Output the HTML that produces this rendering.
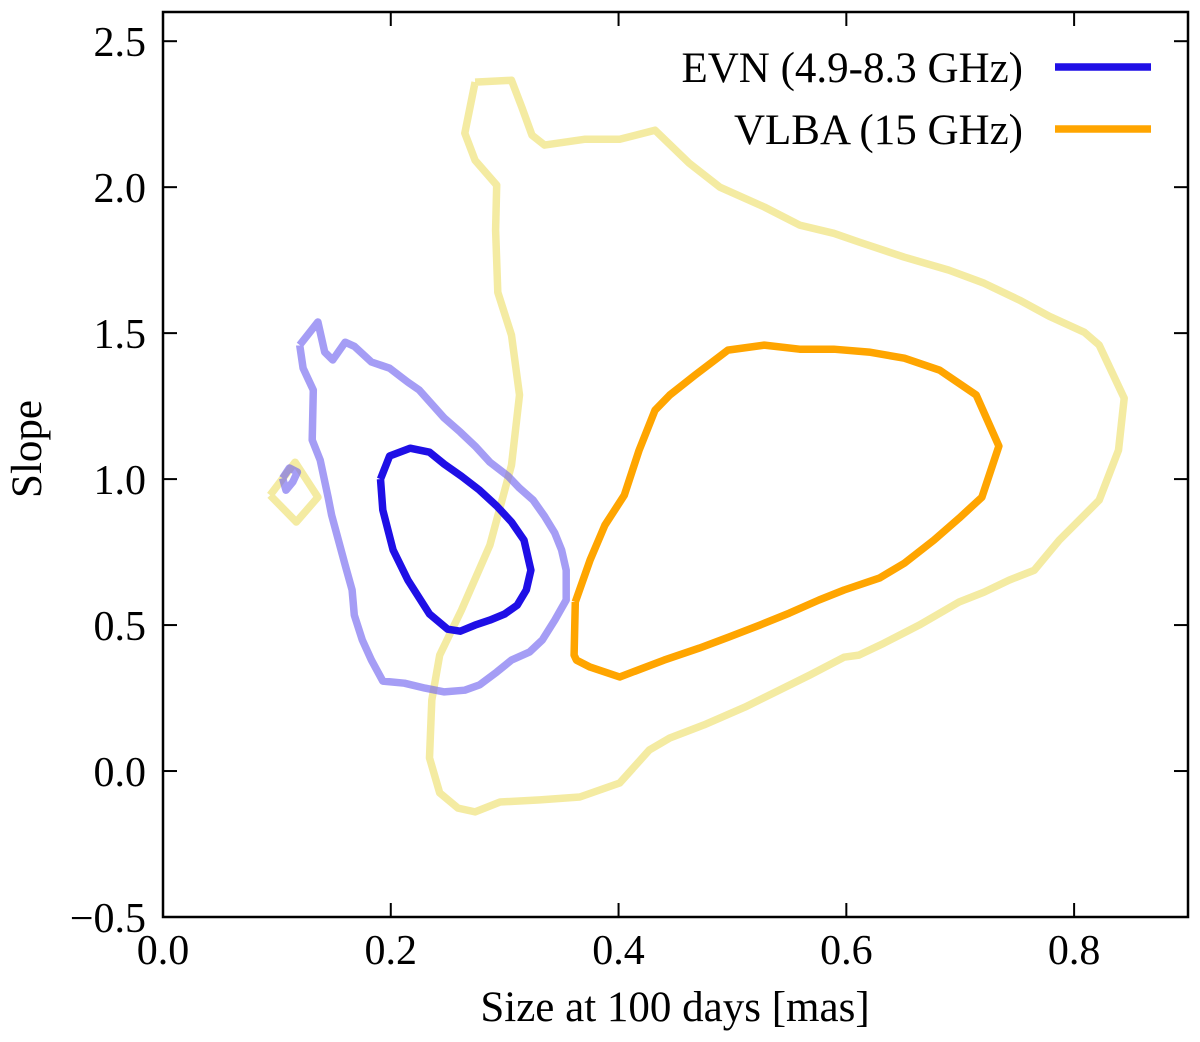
<!DOCTYPE html>
<html><head><meta charset="utf-8"><style>
html,body{margin:0;padding:0;background:#fff;}
svg{display:block;font-family:"Liberation Serif",serif;}
</style></head><body>
<svg id="chart" width="1200" height="1042" viewBox="0 0 1200 1042" xmlns="http://www.w3.org/2000/svg"></svg>
<script>
const xTicks=[0.0,0.2,0.4,0.6,0.8];
const xTickLabels=["0.0","0.2","0.4","0.6","0.8"];
const yTicks=[-0.5,0.0,0.5,1.0,1.5,2.0,2.5];
const yTickLabels=["\u22120.5","0.0","0.5","1.0","1.5","2.0","2.5"];
const evnInnerX=[0.191,0.199,0.217,0.234,0.247,0.262,0.278,0.293,0.306,0.317,0.323,0.319,0.311,0.300,0.287,0.274,0.261,0.250,0.234,0.215,0.202,0.193,0.191];
const evnInnerY=[1.000,1.079,1.106,1.092,1.051,1.010,0.962,0.908,0.853,0.791,0.688,0.620,0.568,0.538,0.517,0.500,0.479,0.486,0.538,0.654,0.757,0.894,1.000];
const evnOuterX=[0.120,0.136,0.142,0.149,0.160,0.168,0.183,0.199,0.215,0.225,0.236,0.247,0.261,0.274,0.287,0.303,0.313,0.325,0.335,0.344,0.350,0.354,0.354,0.344,0.333,0.322,0.306,0.293,0.278,0.265,0.247,0.230,0.212,0.193,0.183,0.175,0.168,0.166,0.160,0.154,0.148,0.145,0.138,0.131,0.132,0.123,0.120];
const evnOuterY=[1.459,1.538,1.435,1.408,1.469,1.455,1.401,1.380,1.332,1.305,1.257,1.209,1.161,1.113,1.058,1.010,0.969,0.928,0.873,0.815,0.757,0.688,0.586,0.517,0.449,0.408,0.380,0.339,0.295,0.277,0.271,0.284,0.301,0.308,0.380,0.449,0.534,0.620,0.705,0.791,0.877,0.938,1.065,1.134,1.305,1.380,1.459];
const evnIslandX=[0.105,0.111,0.118,0.114,0.108,0.105];
const evnIslandY=[1.003,1.038,1.024,0.990,0.962,1.003];
const vlbaInnerX=[0.362,0.375,0.388,0.405,0.418,0.432,0.445,0.467,0.496,0.528,0.559,0.589,0.620,0.651,0.682,0.714,0.734,0.719,0.699,0.677,0.651,0.629,0.598,0.576,0.550,0.524,0.497,0.471,0.440,0.401,0.375,0.363,0.361,0.362];
const vlbaInnerY=[0.579,0.723,0.842,0.945,1.099,1.236,1.288,1.356,1.442,1.459,1.445,1.445,1.435,1.414,1.373,1.288,1.113,0.938,0.866,0.791,0.712,0.661,0.620,0.586,0.541,0.500,0.459,0.421,0.380,0.322,0.356,0.380,0.397,0.579];
const vlbaOuterX=[0.274,0.306,0.315,0.324,0.335,0.370,0.401,0.432,0.462,0.489,0.528,0.559,0.589,0.611,0.651,0.690,0.721,0.752,0.778,0.809,0.822,0.844,0.839,0.822,0.809,0.787,0.765,0.743,0.721,0.699,0.664,0.633,0.611,0.598,0.568,0.541,0.511,0.475,0.445,0.427,0.401,0.366,0.331,0.296,0.274,0.259,0.243,0.234,0.236,0.243,0.262,0.287,0.306,0.313,0.306,0.294,0.292,0.293,0.274,0.265,0.274];
const vlbaOuterY=[2.360,2.366,2.274,2.178,2.144,2.164,2.164,2.195,2.082,2.000,1.932,1.870,1.842,1.812,1.760,1.716,1.671,1.613,1.558,1.503,1.459,1.277,1.099,0.928,0.877,0.791,0.688,0.654,0.613,0.579,0.500,0.438,0.397,0.390,0.329,0.277,0.219,0.158,0.113,0.072,-0.041,-0.089,-0.099,-0.106,-0.140,-0.127,-0.075,0.045,0.243,0.397,0.551,0.774,1.048,1.288,1.493,1.640,1.853,2.007,2.092,2.185,2.360];
const vlbaIslandX=[0.094,0.116,0.136,0.117,0.094];
const vlbaIslandY=[0.945,1.058,0.938,0.853,0.945];

const L=163,R=1188,T=12,B=917,X0=0,X1=0.9,Y0=-0.5,Y1=2.6;
const sx=v=>L+(v-X0)/(X1-X0)*(R-L);
const sy=v=>B-(v-Y0)/(Y1-Y0)*(B-T);
const svg=document.getElementById('chart');
const NS='http://www.w3.org/2000/svg';
function mk(tag,attrs){const e=document.createElementNS(NS,tag);for(const k in attrs)e.setAttribute(k,attrs[k]);svg.appendChild(e);return e;}
function contour(xs,ys,color,op,name){
  const d=xs.map((x,i)=>(i?'L':'M')+sx(x).toFixed(1)+' '+sy(ys[i]).toFixed(1)).join(' ');
  const p=mk('path',{d:d,fill:'none',stroke:color,'stroke-opacity':op,'stroke-width':7.5,'stroke-linejoin':'round'});
  
  
}
contour(vlbaOuterX,vlbaOuterY,'#efe27a',0.7,'vlba-outer-contour');
contour(vlbaIslandX,vlbaIslandY,'#efe27a',0.7,'vlba-island-contour');
contour(evnOuterX,evnOuterY,'#7469f0',0.65,'evn-outer-contour');
contour(evnIslandX,evnIslandY,'#7469f0',0.65,'evn-island-contour');
contour(vlbaInnerX,vlbaInnerY,'#ffa500',1,'vlba-inner-contour');
contour(evnInnerX,evnInnerY,'#1f0fe6',1,'evn-inner-contour');

const frame=mk('rect',{x:L,y:T,width:R-L,height:B-T,fill:'none',stroke:'#000','stroke-width':2.5});


xTicks.forEach((v,i)=>{
  const x=sx(v);
  mk('line',{x1:x,y1:B,x2:x,y2:B-14,stroke:'#000','stroke-width':2});
  mk('line',{x1:x,y1:T,x2:x,y2:T+14,stroke:'#000','stroke-width':2});
  const t=mk('text',{x:x,y:964,'text-anchor':'middle','font-size':42});
  t.textContent=xTickLabels[i];
  
  
});
yTicks.forEach((v,i)=>{
  const y=sy(v);
  mk('line',{x1:L,y1:y,x2:L+14,y2:y,stroke:'#000','stroke-width':2});
  mk('line',{x1:R,y1:y,x2:R-14,y2:y,stroke:'#000','stroke-width':2});
  const t=mk('text',{x:L-17,y:y+15,'text-anchor':'end','font-size':42});
  t.textContent=yTickLabels[i];
  
  
});
const xl=mk('text',{x:675,y:1021,'text-anchor':'middle','font-size':43});
xl.textContent='Size at 100 days [mas]';


const yl=mk('text',{x:0,y:0,'text-anchor':'middle','font-size':43,transform:'translate(41,449) rotate(-90)'});
yl.textContent='Slope';



const legend=[['EVN (4.9-8.3 GHz)','#1f0fe6',67],['VLBA (15 GHz)','#ffa500',129]];
legend.forEach(([lab,c,y])=>{
  const ln=mk('line',{x1:1055,y1:y,x2:1151,y2:y,stroke:c,'stroke-width':7.5});
  
  
  const t=mk('text',{x:1023,y:y+15,'text-anchor':'end','font-size':43});
  t.textContent=lab;
  
  
});
</script>
</body></html>
